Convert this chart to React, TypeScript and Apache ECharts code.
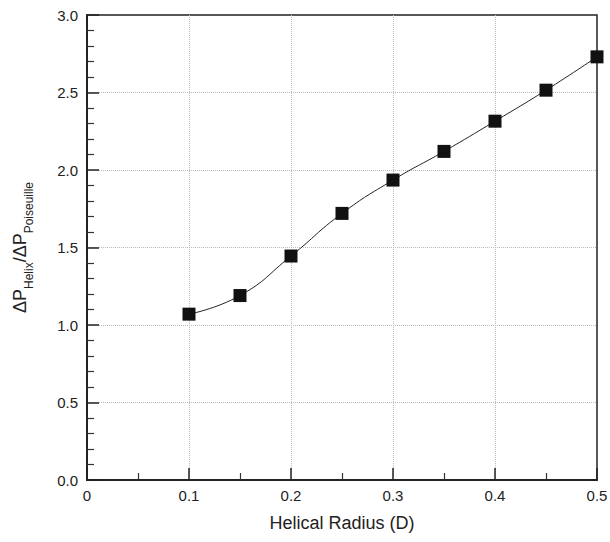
import React, { useEffect, useRef } from "react";
import * as echarts from "echarts";

const radius = [0.1, 0.15, 0.2, 0.25, 0.3, 0.35, 0.4, 0.45, 0.5];
const pressureRatio = [1.07, 1.19, 1.445, 1.72, 1.935, 2.12, 2.315, 2.515, 2.73];
const xTitle = "Helical Radius (D)";
const FONT = "'Liberation Sans', Arial, Helvetica, sans-serif";

export default function App() {
  const ref = useRef<HTMLDivElement>(null);
  useEffect(() => {
    document.body.style.margin = "0";
    document.body.style.overflow = "hidden";
    if (!ref.current) return;
    const chart = echarts.init(ref.current, undefined, { renderer: "svg" });
    const axisCommon = {
      axisLine: { show: true, onZero: false, lineStyle: { color: "#222", width: 2 } },
      axisTick: { show: true, inside: true, length: 12, lineStyle: { color: "#222", width: 1.5 } },
      minorTick: { show: true, length: 7, lineStyle: { color: "#333", width: 1.2 } },
      splitLine: {
        show: true,
        showMinLine: false,
        showMaxLine: false,
        lineStyle: { color: "#bbb", type: "dotted", width: 1 },
      },
    };
    chart.setOption({
      animation: false,
      backgroundColor: "#fff",
      grid: {
        left: 87,
        right: 13,
        top: 15,
        bottom: 62,
        containLabel: false,
        outerBoundsMode: "none",
        show: true,
        borderColor: "#222",
        borderWidth: 1.5,
        backgroundColor: "transparent",
      },
      xAxis: {
        type: "value",
        min: 0,
        max: 0.5,
        interval: 0.1,
        ...axisCommon,
        minorTick: { ...axisCommon.minorTick, splitNumber: 2 },
        axisLabel: {
          margin: 8,
          fontSize: 15,
          color: "#222",
          fontFamily: FONT,
          hideOverlap: false,
          formatter: (v: number) => (v === 0 ? "0" : v.toFixed(1)),
        },
        name: xTitle,
        nameLocation: "middle",
        nameGap: 34,
        nameTextStyle: { fontSize: 18, color: "#222", fontFamily: FONT },
      },
      yAxis: {
        type: "value",
        min: 0,
        max: 3,
        interval: 0.5,
        ...axisCommon,
        minorTick: { ...axisCommon.minorTick, splitNumber: 5 },
        axisLabel: {
          margin: 9,
          fontSize: 15,
          color: "#222",
          fontFamily: FONT,
          formatter: (v: number) => v.toFixed(1),
        },
        name: "{m|ΔP}{s|Helix}{m|/ΔP}{s|Poiseuille}",
        nameLocation: "middle",
        nameRotate: 90,
        nameGap: 52,
        nameTextStyle: {
          rich: {
            m: { fontSize: 18, color: "#222", fontFamily: FONT, verticalAlign: "top" },
            s: {
              fontSize: 12,
              color: "#222",
              fontFamily: FONT,
              verticalAlign: "top",
              padding: [12, 0, 0, 0],
            },
          },
        },
      },
      series: [
        {
          type: "line",
          data: radius.map((r, i) => [r, pressureRatio[i]]),
          smooth: true,
          symbol: "rect",
          symbolSize: 13,
          clip: false,
          lineStyle: { color: "#222", width: 1 },
          itemStyle: { color: "#111" },
          z: 5,
        },
      ],
    });
    return () => chart.dispose();
  }, []);
  return <div ref={ref} style={{ width: 610, height: 542 }} />;
}
